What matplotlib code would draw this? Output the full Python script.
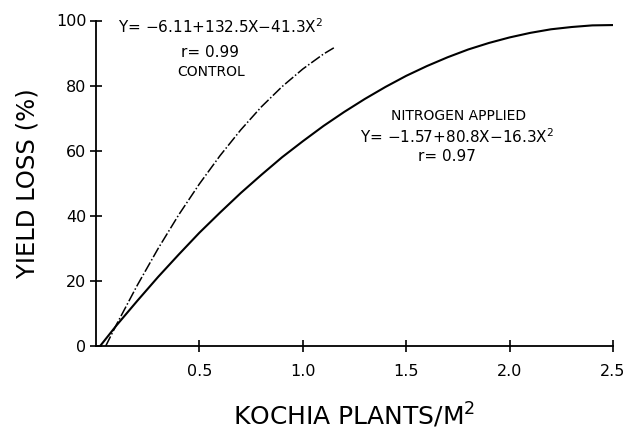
import matplotlib
matplotlib.use("Agg")
import matplotlib.pyplot as plt

# Values
control_x = [0.047, 0.1, 0.2, 0.3, 0.4, 0.5, 0.6, 0.7, 0.8, 0.9, 1.0, 1.1, 1.15]
control_y = [0.0, 6.7, 18.7, 29.9, 40.3, 49.8, 58.5, 66.4, 73.5, 79.7, 85.1, 89.7, 91.6]

nitrogen_x = [0.02, 0.1, 0.2, 0.3, 0.4, 0.5, 0.6, 0.7, 0.8, 0.9, 1.0, 1.1, 1.2, 1.3,
              1.4, 1.5, 1.6, 1.7, 1.8, 1.9, 2.0, 2.1, 2.2, 2.3, 2.4, 2.5]
nitrogen_y = [0.0, 6.4, 13.9, 21.2, 28.1, 34.8, 41.0, 47.0, 52.6, 58.0, 62.9, 67.6, 71.9, 75.9,
              79.6, 83.0, 86.0, 88.7, 91.1, 93.1, 94.8, 96.2, 97.3, 98.0, 98.5, 98.6]

x_ticks = [0.5, 1.0, 1.5, 2.0, 2.5]
x_tick_labels = ["0.5", "1.0", "1.5", "2.0", "2.5"]
y_ticks = [0, 20, 40, 60, 80, 100]
y_tick_labels = ["0", "20", "40", "60", "80", "100"]

plt.rcParams['font.family'] = ['DejaVu Sans']

fig = plt.figure(figsize=(6.29, 4.29), dpi=100)
ax = fig.add_axes([96/629, 1-346/429, (613-96)/629, (346-20.5)/429])

ax.plot(control_x, control_y, color='black', lw=1.1, dashes=(7, 1.5, 1, 1.5))
ax.plot(nitrogen_x, nitrogen_y, color='black', lw=1.5, solid_capstyle='butt')

ax.set_xlim(0, 2.5)
ax.set_ylim(0, 100)
ax.set_xticks(x_ticks)
ax.set_xticklabels(x_tick_labels)
ax.set_yticks(y_ticks)
ax.set_yticklabels(y_tick_labels)

for s in ['top', 'right']:
    ax.spines[s].set_visible(False)
for s in ['left', 'bottom']:
    ax.spines[s].set_linewidth(1.3)
    ax.spines[s].set_color('black')

ax.tick_params(axis='both', direction='inout', length=8, width=1.2, labelsize=11.5, colors='black')
ax.tick_params(axis='x', pad=9)
ax.tick_params(axis='y', pad=3)

ax.set_xlabel("KOCHIA PLANTS/M$^2$", fontsize=18, labelpad=16)
ax.set_ylabel("YIELD LOSS (%)", fontsize=17.5, labelpad=12)

fs = 11
ax.text(0.106, 98.0, "Y= \u22126.11+132.5X\u221241.3X$^2$", fontsize=fs, ha='left', va='center')
ax.text(0.549, 90.3, "r= 0.99", fontsize=fs, ha='center', va='center')
ax.text(0.559, 84.2, "CONTROL", fontsize=fs - 1, ha='center', va='center')
ax.text(1.754, 70.7, "NITROGEN APPLIED", fontsize=fs - 1, ha='center', va='center')
ax.text(1.745, 64.2, "Y= \u22121.57+80.8X\u221216.3X$^2$", fontsize=fs, ha='center', va='center')
ax.text(1.696, 58.1, "r= 0.97", fontsize=fs, ha='center', va='center')

fig.savefig("out.png", dpi=100)
